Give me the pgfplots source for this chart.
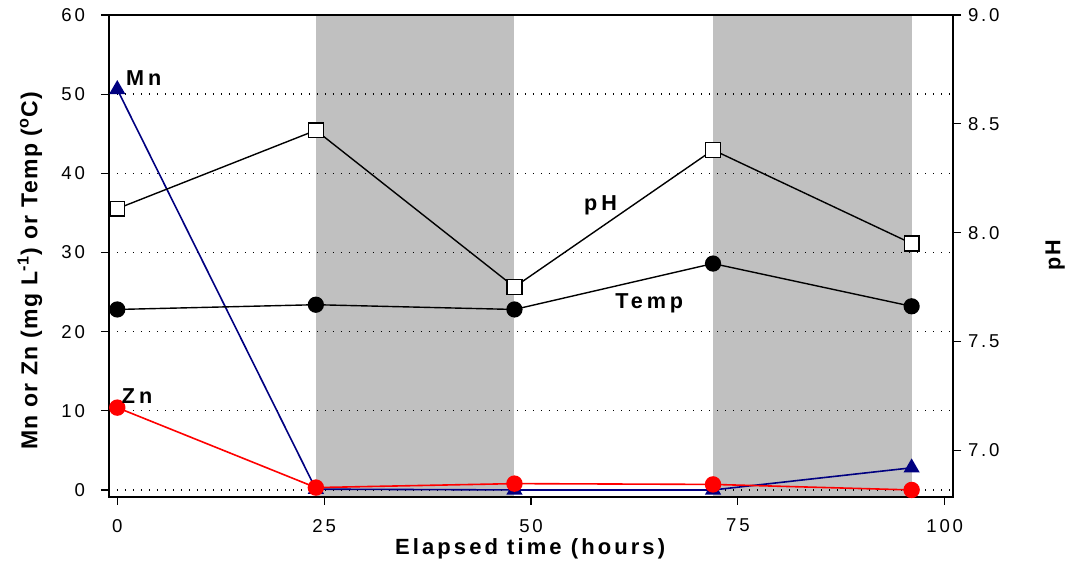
\documentclass[border=0pt]{standalone}
\usepackage{pgfplots}
\pgfplotsset{compat=1.18}
\usepackage{fontspec}
\setmainfont{Liberation Sans}
\newfontfamily\tickfont[LetterSpace=15]{Liberation Sans}
\newfontfamily\labfont[LetterSpace=6]{Liberation Sans Bold}
\newfontfamily\widefont[LetterSpace=18]{Liberation Sans Bold}
\newfontfamily\xlabfont[LetterSpace=14]{Liberation Sans Bold}
\definecolor{shade}{HTML}{C0C0C0}
\definecolor{mnblue}{HTML}{000080}
\definecolor{znred}{HTML}{FF0000}
\begin{document}
\begin{tikzpicture}
\pgfplotsset{
  every axis/.append style={scale only axis, width=422pt, height=241pt,
    xmin=-1, xmax=101, at={(0,0)}, anchor=south west,
    /pgf/number format/assume math mode=true,
    tick label style={font=\tickfont\fontsize{9.3}{10}\selectfont},
    tick align=outside, major tick length=4pt,
    axis line style={line width=0.8pt},
    every tick/.style={black, line width=0.6pt},
  }
}
% shaded periods
\begin{axis}[hide axis, ymin=-0.89, ymax=60]
\addplot[fill=shade, draw=none] coordinates {(24,-0.89) (24,60) (48,60) (48,-0.89)};
\addplot[fill=shade, draw=none] coordinates {(72,-0.89) (72,60) (96,60) (96,-0.89)};
\end{axis}
% main left axis
\begin{axis}[ymin=-0.89, ymax=60,
  ytick={0,10,20,30,40,50,60}, xtick={0,25,50,75,100},
  xtick pos=left, ytick pos=left,
  yticklabel style={xshift=-4.5pt},
  xticklabel style={yshift=-3.5pt},
  ymajorgrids, grid style={black, line width=0.7pt, dash pattern=on 0.7pt off 3.3pt},
  clip mode=individual,
  xlabel={Elapsed time (hours)},
  ylabel={Mn or Zn (mg L\textsuperscript{-1}) or Temp (\textsuperscript{o}C)},
  every axis x label/.style={at={(axis description cs:0.499,-0.108)}, anchor=center,
    font=\xlabfont\fontsize{11}{12}\selectfont},
  every axis y label/.style={at={(axis description cs:-0.0936,0.469)}, anchor=center, rotate=90,
    font=\labfont\fontsize{11.5}{12}\selectfont},
]
\addplot[mnblue, line width=0.8pt, mark=triangle*, mark size=3.9pt, mark options={fill=mnblue, draw=mnblue}]
  coordinates {(0,50.6) (24,0.1) (48,0) (72,0) (96,2.8)};
\addplot[znred, line width=0.8pt, mark=*, mark size=3.7pt, mark options={fill=znred, draw=znred}]
  coordinates {(0,10.4) (24,0.3) (48,0.8) (72,0.7) (96,0)};
\addplot[black, line width=0.7pt, mark=*, mark size=3.7pt, mark options={fill=black}]
  coordinates {(0,22.8) (24,23.4) (48,22.8) (72,28.6) (96,23.2)};
\node[font=\widefont\fontsize{10.8}{12}\selectfont] at (axis cs:3.2,52.0) {Mn};
\node[font=\widefont\fontsize{10.8}{12}\selectfont] at (axis cs:2.4,11.9) {Zn};
\node[font=\widefont\fontsize{10.8}{12}\selectfont] at (axis cs:58.4,36.0) {pH};
\node[font=\widefont\fontsize{10.8}{12}\selectfont] at (axis cs:64.3,23.6) {Temp};
\end{axis}
% right pH axis
\begin{axis}[axis x line=none, axis y line*=right, ymin=6.785, ymax=9.0,
  ytick={7,7.5,8,8.5,9},
  yticklabel style={/pgf/number format/.cd, fixed, fixed zerofill, precision=1},
  clip mode=individual,
  ylabel={pH},
  every axis y label/.style={at={(axis description cs:1.121,0.502)}, anchor=center, rotate=90,
    font=\labfont\fontsize{10.8}{12}\selectfont},
]
\addplot[black, line width=0.7pt, mark=square*, mark size=3.7pt, mark options={fill=white, draw=black, line width=0.7pt}]
  coordinates {(0,8.11) (24,8.47) (48,7.75) (72,8.38) (96,7.95)};
\end{axis}
\pgfresetboundingbox
\path[use as bounding box] (-54.5pt,-35pt) rectangle (478.5pt,248.5pt);
\end{tikzpicture}
\end{document}
